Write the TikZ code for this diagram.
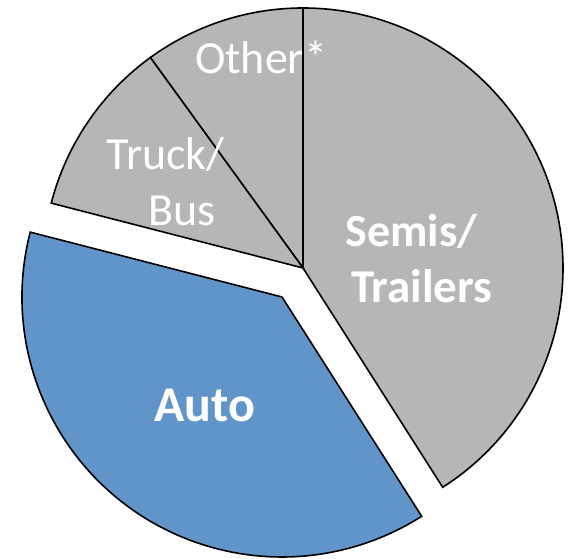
\documentclass[tikz,border=0pt]{standalone}
\usepackage{fontspec}
\setmainfont{Carlito}
\definecolor{slicegray}{RGB}{182,182,182}
\definecolor{autoblue}{RGB}{97,149,201}
\begin{document}
\begin{tikzpicture}[x=1pt,y=1pt,
  slice/.style={draw=black, line width=1.6pt, line join=miter},
  lbl/.style={text=white, font=\fontsize{46}{56}\selectfont, inner sep=0pt, anchor=base},
  boldlbl/.style={lbl, font=\fontsize{46}{56}\selectfont\bfseries}]
\useasboundingbox (0,0) rectangle (570,559);
% pie centre and the centre of the pulled-out slice
\coordinate (C) at (303,291);
\coordinate (A) at (282,262);
\def\R{260}
% Semis/Trailers
\filldraw[slice, fill=slicegray] (C) -- ++(90:\R) arc[start angle=90, end angle=-57.5, radius=\R] -- cycle;
% Other
\filldraw[slice, fill=slicegray] (C) -- ++(90:\R) arc[start angle=90, end angle=125.95, radius=\R] -- cycle;
% Truck/Bus
\filldraw[slice, fill=slicegray] (C) -- ++(125.95:\R) arc[start angle=125.95, end angle=165.55, radius=\R] -- cycle;
% Auto (exploded)
\filldraw[slice, fill=autoblue] (A) -- ++(165.55:\R) arc[start angle=165.55, end angle=302.5, radius=\R] -- cycle;
% labels
\node[lbl] (other) at (261,485) {Other*};
\node[lbl] (truck) at (165.5,389) {Truck/};
\node[lbl] (bus) at (182,333) {Bus};
\node[boldlbl] (semis) at (411.5,312) {Semis/};
\node[boldlbl, font=\fontsize{47}{56}\selectfont\bfseries] (trailers) at (421.75,256) {Trailers};
\node[boldlbl, font=\fontsize{50}{60}\selectfont\bfseries] (auto) at (205,137) {Auto};
\end{tikzpicture}
\end{document}
